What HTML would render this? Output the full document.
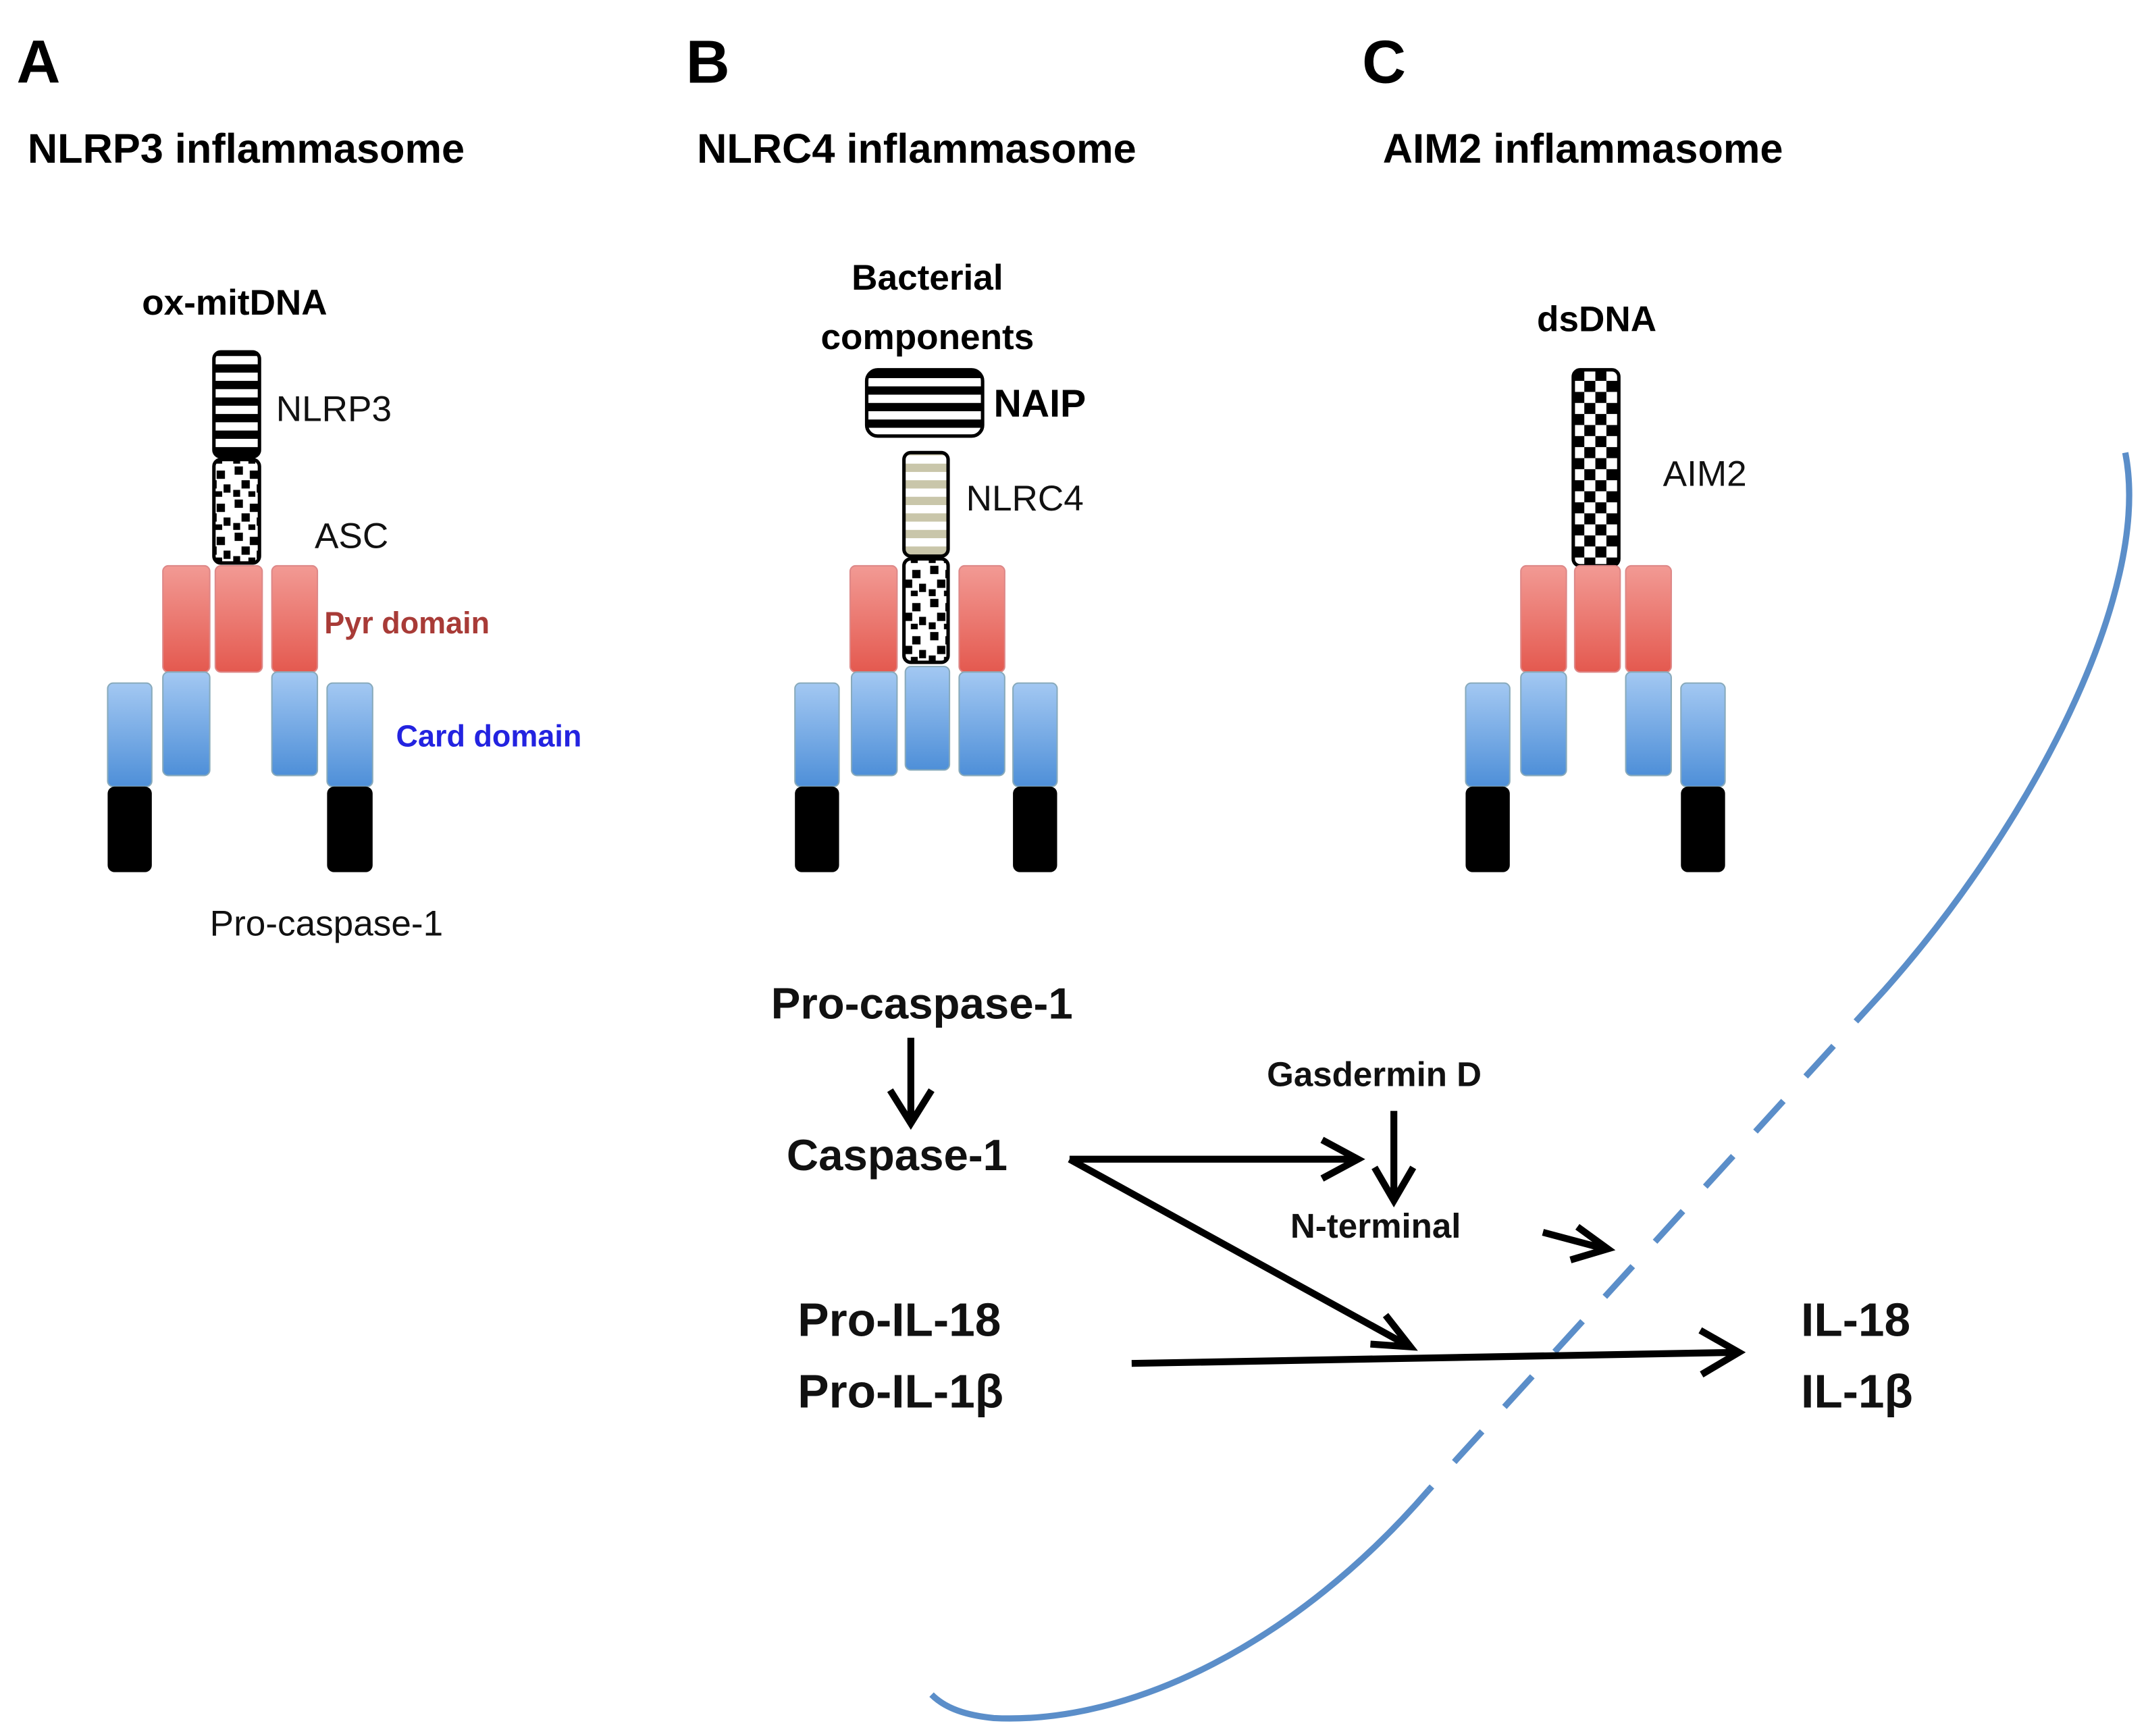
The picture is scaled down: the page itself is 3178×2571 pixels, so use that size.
<!DOCTYPE html>
<html><head><meta charset="utf-8"><style>
html,body{margin:0;padding:0;background:#fff}
svg{display:block}
text{font-family:"Liberation Sans",sans-serif}
</style></head><body>
<svg width="3178" height="2571" viewBox="0 0 1555 1258" xmlns="http://www.w3.org/2000/svg">
<defs>
<pattern id="stripe" width="10" height="12" patternUnits="userSpaceOnUse"><rect width="10" height="12" fill="#fff"/><rect width="10" height="6" fill="#000"/></pattern>
<pattern id="naip" width="10" height="12" patternUnits="userSpaceOnUse" y="268"><rect width="10" height="12" fill="#fff"/><rect width="10" height="6" fill="#000"/></pattern>
<pattern id="beige" width="10" height="12" patternUnits="userSpaceOnUse"><rect width="10" height="12" fill="#fff"/><rect width="10" height="6" fill="#c9c6aa"/></pattern>
<pattern id="dots" width="24" height="24" patternUnits="userSpaceOnUse"><rect width="24" height="24" fill="#fff"/><rect x="2" y="2" width="6" height="6"/><rect x="13" y="5" width="6" height="6"/><rect x="7" y="12" width="6" height="6"/><rect x="18" y="15" width="5" height="6"/><rect x="1" y="19" width="5" height="5"/><rect x="12" y="20" width="5" height="4"/></pattern>
<pattern id="check" width="16" height="16" patternUnits="userSpaceOnUse" x="1140" y="268"><rect width="16" height="16" fill="#fff"/><rect width="8" height="8"/><rect x="8" y="8" width="8" height="8"/></pattern>
<linearGradient id="red" x1="0" y1="0" x2="0" y2="1"><stop offset="0" stop-color="#f29a94"/><stop offset="1" stop-color="#e4594f"/></linearGradient>
<linearGradient id="blue" x1="0" y1="0" x2="0" y2="1"><stop offset="0" stop-color="#a3c8f2"/><stop offset="1" stop-color="#4e8fd8"/></linearGradient>
</defs>
<g font-weight="bold" fill="#000">
<text x="12" y="60" font-size="44">A</text>
<text x="497" y="60" font-size="44">B</text>
<text x="987" y="60" font-size="44">C</text>
<text x="20" y="118" font-size="30">NLRP3 inflammasome</text>
<text x="505" y="118" font-size="30">NLRC4 inflammasome</text>
<text x="1002" y="118" font-size="30">AIM2 inflammasome</text>
<text x="170" y="228" font-size="26" text-anchor="middle">ox-mitDNA</text>
<text x="672" y="210" font-size="26" text-anchor="middle">Bacterial</text>
<text x="672" y="253" font-size="26" text-anchor="middle">components</text>
<text x="720" y="302" font-size="28">NAIP</text>
<text x="1157" y="240" font-size="26" text-anchor="middle">dsDNA</text>
<text x="235" y="459" font-size="22" fill="#a83b37">Pyr domain</text>
<text x="287" y="541" font-size="22" fill="#2323e0">Card domain</text>
</g>
<g font-size="26" fill="#111">
<text x="200" y="305">NLRP3</text>
<text x="228" y="397">ASC</text>
<text x="152" y="678">Pro-caspase-1</text>
<text x="700" y="370">NLRC4</text>
<text x="1205" y="352">AIM2</text>
</g>
<g stroke="#000" stroke-width="2.5">
<rect x="155" y="255" width="33" height="76" rx="5" fill="url(#stripe)"/>
<rect x="155" y="333" width="33" height="75" rx="5" fill="url(#dots)"/>
<rect x="628" y="268" width="84" height="48" rx="8" fill="url(#naip)"/>
<rect x="655" y="328" width="32" height="75" rx="5" fill="url(#beige)"/>
<rect x="655" y="405" width="32" height="75" rx="5" fill="url(#dots)"/>
<rect x="1140" y="268" width="33" height="142" rx="5" fill="url(#check)"/>
</g>
<g fill="url(#red)" stroke="#d88" stroke-width="1">
<rect x="118" y="410" width="34" height="77" rx="4"/><rect x="156" y="410" width="34" height="77" rx="4"/><rect x="197" y="410" width="33" height="77" rx="4"/>
<rect x="616" y="410" width="34" height="77" rx="4"/><rect x="695" y="410" width="33" height="77" rx="4"/>
<rect x="1102" y="410" width="33" height="77" rx="4"/><rect x="1141" y="410" width="33" height="77" rx="4"/><rect x="1178" y="410" width="33" height="77" rx="4"/>
</g>
<g fill="url(#blue)" stroke="#8ab" stroke-width="1">
<rect x="78" y="495" width="32" height="75" rx="4"/><rect x="118" y="487" width="34" height="75" rx="4"/><rect x="197" y="487" width="33" height="75" rx="4"/><rect x="237" y="495" width="33" height="75" rx="4"/>
<rect x="576" y="495" width="32" height="75" rx="4"/><rect x="617" y="487" width="33" height="75" rx="4"/><rect x="656" y="483" width="32" height="75" rx="4"/><rect x="695" y="487" width="33" height="75" rx="4"/><rect x="734" y="495" width="32" height="75" rx="4"/>
<rect x="1062" y="495" width="32" height="75" rx="4"/><rect x="1102" y="487" width="33" height="75" rx="4"/><rect x="1178" y="487" width="33" height="75" rx="4"/><rect x="1218" y="495" width="32" height="75" rx="4"/>
</g>
<g fill="#000">
<rect x="78" y="570" width="32" height="62" rx="5"/><rect x="237" y="570" width="33" height="62" rx="5"/>
<rect x="576" y="570" width="32" height="62" rx="5"/><rect x="734" y="570" width="32" height="62" rx="5"/>
<rect x="1062" y="570" width="32" height="62" rx="5"/><rect x="1218" y="570" width="32" height="62" rx="5"/>
</g>
<g fill="none" stroke="#5b8ec9" stroke-width="4.5" stroke-linecap="butt">
<path d="M1540,328 C1560,430 1470,600 1365,718"/>
<path d="M1365,718 L1035,1080" stroke-dasharray="30,24"/>
<path d="M1035,1080 C940,1190 820,1250 720,1245 C700,1243 685,1238 675,1228"/>
</g>
<g font-weight="bold" fill="#111">
<text x="668" y="738" font-size="32" text-anchor="middle">Pro-caspase-1</text>
<text x="570" y="848" font-size="32">Caspase-1</text>
<text x="918" y="787" font-size="25">Gasdermin D</text>
<text x="935" y="897" font-size="25">N-terminal</text>
<text x="578" y="968" font-size="34">Pro-IL-18</text>
<text x="578" y="1020" font-size="34">Pro-IL-1β</text>
<text x="1305" y="968" font-size="34">IL-18</text>
<text x="1305" y="1020" font-size="34">IL-1β</text>
</g>
<g stroke="#000" stroke-width="5" fill="none" stroke-linejoin="miter">
<line x1="660" y1="752" x2="660" y2="812"/><path d="M645,790 L660,814 L675,790"/>
<line x1="1010" y1="805" x2="1010" y2="868"/><path d="M996,846 L1010,870 L1024,846"/>
<line x1="775" y1="840" x2="982" y2="840"/><path d="M958,826 L984,840 L958,854"/>
<line x1="775" y1="840" x2="1020" y2="975"/><path d="M993,974 L1022,976 L1004,953"/>
<line x1="1118" y1="893" x2="1163" y2="905"/><path d="M1143,889 L1165,905 L1138,913"/>
<line x1="820" y1="988" x2="1258" y2="980"/><path d="M1232,964 L1260,980 L1233,996"/>
</g>
</svg>
</body></html>
